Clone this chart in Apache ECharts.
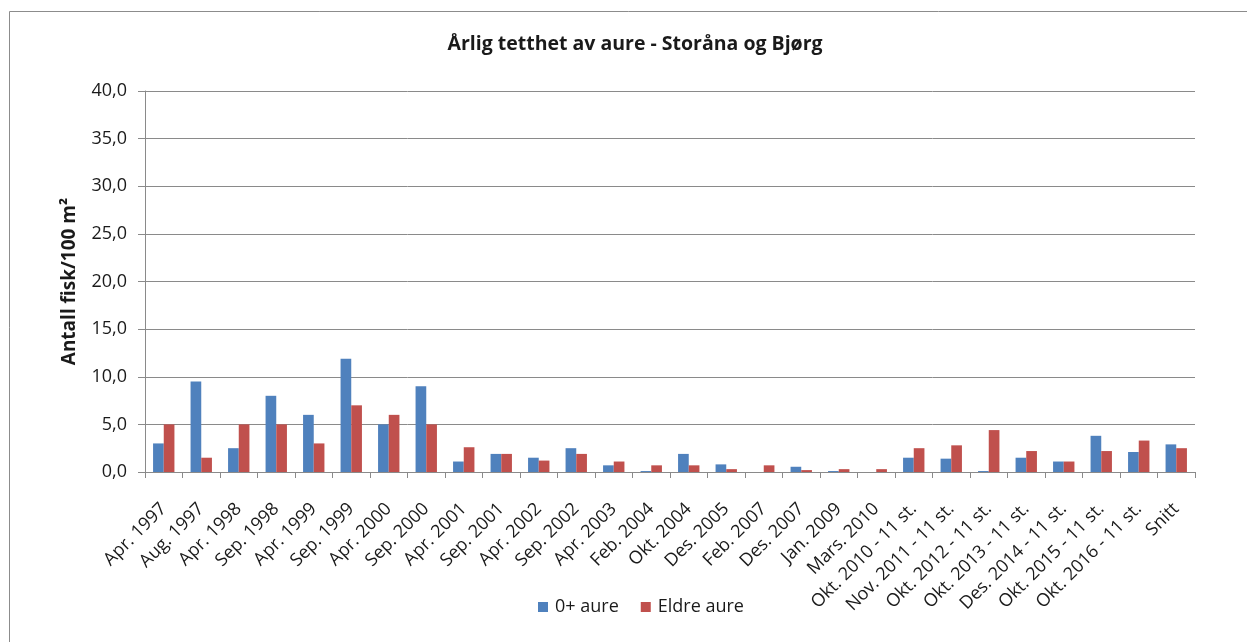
<!DOCTYPE html>
<html>
<head>
<meta charset="utf-8">
<script src="https://cdn.jsdelivr.net/npm/echarts@6/dist/echarts.min.js"></script>
<style>
  html, body { margin: 0; padding: 0; background: #fff; }
  #chart { width: 1247px; height: 642px; }
</style>
</head>
<body>
<div id="chart"></div>
<script>
// Survey dates (sampling occasions) plus the overall average
const categories = [
  'Apr. 1997', 'Aug. 1997', 'Apr. 1998', 'Sep. 1998', 'Apr. 1999', 'Sep. 1999',
  'Apr. 2000', 'Sep. 2000', 'Apr. 2001', 'Sep. 2001', 'Apr. 2002', 'Sep. 2002',
  'Apr. 2003', 'Feb. 2004', 'Okt. 2004', 'Des. 2005', 'Feb. 2007', 'Des. 2007',
  'Jan. 2009', 'Mars. 2010', 'Okt. 2010 - 11 st.', 'Nov. 2011 - 11 st.',
  'Okt. 2012 - 11 st.', 'Okt. 2013 - 11 st.', 'Des. 2014 - 11 st.',
  'Okt. 2015 - 11 st.', 'Okt. 2016 - 11 st.', 'Snitt'
];

// Density of young-of-the-year trout (fish per 100 m²)
const youngTrout = [
  3.0, 9.5, 2.5, 8.0, 6.0, 11.9,
  5.0, 9.0, 1.1, 1.9, 1.5, 2.5,
  0.7, 0.1, 1.9, 0.8, 0.0, 0.55,
  0.1, 0.0, 1.5, 1.4,
  0.1, 1.5, 1.1,
  3.8, 2.1, 2.9
];

// Density of older trout (fish per 100 m²)
const olderTrout = [
  5.0, 1.5, 5.0, 5.0, 3.0, 7.0,
  6.0, 5.0, 2.6, 1.9, 1.2, 1.9,
  1.1, 0.7, 0.7, 0.3, 0.7, 0.2,
  0.3, 0.3, 2.5, 2.8,
  4.4, 2.2, 1.1,
  2.2, 3.3, 2.5
];

const seriesNames = ['0+ aure', 'Eldre aure'];

const FONT = '"Open Sans", "DejaVu Sans", sans-serif';
const TEXT = '#1a1a1a';
const GRID_LINE = '#8a8a8a';

const chart = echarts.init(document.getElementById('chart'), null, { renderer: 'canvas' });

chart.setOption({
  backgroundColor: '#ffffff',
  animation: false,
  textStyle: { fontFamily: FONT, color: TEXT },
  graphic: [{
    type: 'rect',
    shape: { x: 9.5, y: 11.5, width: 1260, height: 660 },
    style: { fill: 'none', stroke: '#8c8c8c', lineWidth: 1 },
    silent: true,
    z: -1
  }],
  title: {
    text: 'Årlig tetthet av aure - Storåna og Bjørg',
    left: 630,
    textAlign: 'center',
    top: 29,
    textStyle: { fontFamily: FONT, fontSize: 19.5, fontWeight: 'bold', color: TEXT }
  },
  legend: {
    data: seriesNames,
    left: 533,
    top: 593,
    itemWidth: 10,
    itemHeight: 10,
    itemGap: 22,
    icon: 'rect',
    textStyle: { fontFamily: FONT, fontSize: 18, color: TEXT, padding: [0, 0, 0, 2] }
  },
  grid: {
    left: 145,
    right: 52,
    top: 91,
    bottom: 170,
    containLabel: false
  },
  xAxis: {
    type: 'category',
    data: categories,
    boundaryGap: true,
    axisLine: { show: true, lineStyle: { color: GRID_LINE, width: 1 } },
    axisTick: { show: true, alignWithLabel: false, length: 6, lineStyle: { color: GRID_LINE } },
    axisLabel: {
      interval: 0,
      rotate: 45,
      margin: 34,
      fontFamily: FONT,
      fontSize: 18,
      color: TEXT
    }
  },
  yAxis: {
    type: 'value',
    min: 0,
    max: 40,
    interval: 5,
    name: 'Antall fisk/100 m²',
    nameLocation: 'middle',
    nameRotate: 90,
    nameGap: 66,
    nameTextStyle: { fontFamily: FONT, fontSize: 19, fontWeight: 'bold', color: TEXT },
    axisLine: { show: true, lineStyle: { color: GRID_LINE, width: 1 } },
    axisTick: { show: true, inside: false, length: 7, lineStyle: { color: GRID_LINE } },
    splitLine: { show: true, lineStyle: { color: GRID_LINE, width: 1 } },
    axisLabel: {
      margin: 18,
      fontFamily: FONT,
      fontSize: 18,
      color: TEXT,
      formatter: (v) => v.toFixed(1).replace('.', ',')
    }
  },
  series: [
    {
      name: seriesNames[0],
      type: 'bar',
      data: youngTrout,
      barGap: '0%',
      barCategoryGap: '43%',
      itemStyle: { color: '#4F81BD' }
    },
    {
      name: seriesNames[1],
      type: 'bar',
      data: olderTrout,
      barGap: '0%',
      barCategoryGap: '43%',
      itemStyle: { color: '#C0504D' }
    }
  ]
});
</script>
</body>
</html>
